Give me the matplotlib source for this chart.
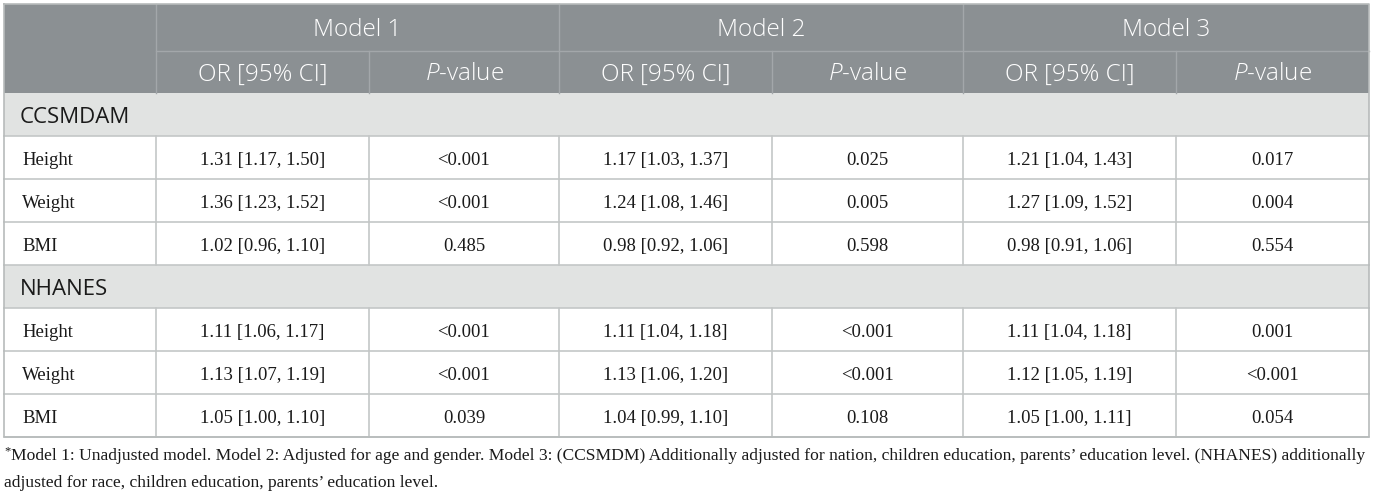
import matplotlib
matplotlib.use("Agg")
import matplotlib.pyplot as plt
from matplotlib.patches import Rectangle

# table content
models = ["Model 1", "Model 2", "Model 3"]
sub_headers = ["OR [95% CI]", "$\\mathit{P}$-value"]
groups = ["CCSMDAM", "NHANES"]
row_labels = ["Height", "Weight", "BMI"]

ccsmdam_or = [
    ["1.31 [1.17, 1.50]", "1.17 [1.03, 1.37]", "1.21 [1.04, 1.43]"],
    ["1.36 [1.23, 1.52]", "1.24 [1.08, 1.46]", "1.27 [1.09, 1.52]"],
    ["1.02 [0.96, 1.10]", "0.98 [0.92, 1.06]", "0.98 [0.91, 1.06]"],
]
ccsmdam_p = [
    ["<0.001", "0.025", "0.017"],
    ["<0.001", "0.005", "0.004"],
    ["0.485", "0.598", "0.554"],
]
nhanes_or = [
    ["1.11 [1.06, 1.17]", "1.11 [1.04, 1.18]", "1.11 [1.04, 1.18]"],
    ["1.13 [1.07, 1.19]", "1.13 [1.06, 1.20]", "1.12 [1.05, 1.19]"],
    ["1.05 [1.00, 1.10]", "1.04 [0.99, 1.10]", "1.05 [1.00, 1.11]"],
]
nhanes_p = [
    ["<0.001", "<0.001", "0.001"],
    ["<0.001", "<0.001", "<0.001"],
    ["0.039", "0.108", "0.054"],
]
footnote = [
    "Model 1: Unadjusted model. Model 2: Adjusted for age and gender. Model 3: (CCSMDM) Additionally adjusted for nation, children education, parents\u2019 education level. (NHANES) additionally",
    "adjusted for race, children education, parents\u2019 education level.",
]

# layout (pixels)
W, H = 1375, 494
col_x = [4, 156, 369, 559, 772, 963, 1176, 1369]
top = 4
head1_b = 51
head2_b = 93
row_h = 43

HEAD_BG = "#8b9093"
HEAD_LINE = "#a3a7aa"
BAND_BG = "#e1e3e2"
GRID = "#c4c7c7"
SANS = "Open Sans"
SERIF = "Liberation Serif"

plt.rcParams["mathtext.fontset"] = "custom"
plt.rcParams["mathtext.it"] = "Open Sans:italic:light"
plt.rcParams["mathtext.rm"] = "Open Sans:light"

fig = plt.figure(figsize=(W / 100, H / 100), dpi=100)
ax = fig.add_axes([0, 0, 1, 1])
ax.set_xlim(0, W)
ax.set_ylim(H, 0)
ax.axis("off")

left, right = col_x[0], col_x[-1]

# header block
ax.add_patch(Rectangle((left, top), right - left, head2_b - top, color=HEAD_BG, lw=0))
ax.plot([col_x[1], right], [head1_b, head1_b], color=HEAD_LINE, lw=1)
for i, x in enumerate(col_x[1:-1]):
    y0 = top if i % 2 == 0 else head1_b
    ax.plot([x, x], [y0, head2_b], color=HEAD_LINE, lw=1)
for m, name in enumerate(models):
    xc = (col_x[1 + 2 * m] + col_x[3 + 2 * m]) / 2
    ax.text(xc, (top + head1_b) / 2 + 3, name, ha="center", va="center",
            color="white", fontsize=17.5, family=SANS, weight="light")
    for s, sub in enumerate(sub_headers):
        xc = (col_x[1 + 2 * m + s] + col_x[2 + 2 * m + s]) / 2
        ax.text(xc, (head1_b + head2_b) / 2 + 2.5, sub, ha="center", va="center",
                color="white", fontsize=17.5, family=SANS, weight="light")

# body
y = head2_b
for g, (name, ors, ps) in enumerate(zip(groups, [ccsmdam_or, nhanes_or], [ccsmdam_p, nhanes_p])):
    ax.add_patch(Rectangle((left, y), right - left, row_h, color=BAND_BG, lw=0))
    ax.text(20, y + row_h / 2 + 2.5, name, ha="left", va="center",
            color="#1a1a1a", fontsize=16, family=SANS)
    ax.plot([left, right], [y + row_h, y + row_h], color=GRID, lw=1.2)
    y += row_h
    for r, lab in enumerate(row_labels):
        yc = y + row_h / 2 + 3
        ax.text(22, yc, lab, ha="left", va="center", color="#1a1a1a",
                fontsize=13.5, family=SERIF)
        for m in range(3):
            for s, val in enumerate([ors[r][m], ps[r][m]]):
                xc = (col_x[1 + 2 * m + s] + col_x[2 + 2 * m + s]) / 2
                ax.text(xc, yc, val, ha="center", va="center",
                        color="#1a1a1a", fontsize=13.5, family=SERIF)
        for x in col_x[1:-1]:
            ax.plot([x, x], [y, y + row_h], color=GRID, lw=1.2)
        ax.plot([left, right], [y + row_h, y + row_h], color=GRID, lw=1.2)
        y += row_h

bottom = y
# outer border
ax.plot([left, right, right, left, left], [top, top, bottom, bottom, top],
        color="#b7bbbb", lw=1.2)

# footnote
ax.text(left, 451, "*", ha="left", va="center", fontsize=9, family=SERIF, color="#1a1a1a")
ax.text(left + 7, 456, footnote[0], ha="left", va="center", fontsize=12.6,
        family=SERIF, color="#1a1a1a")
ax.text(left, 483, footnote[1], ha="left", va="center", fontsize=12.6,
        family=SERIF, color="#1a1a1a")

fig.savefig("out.png", dpi=100, facecolor="white")
